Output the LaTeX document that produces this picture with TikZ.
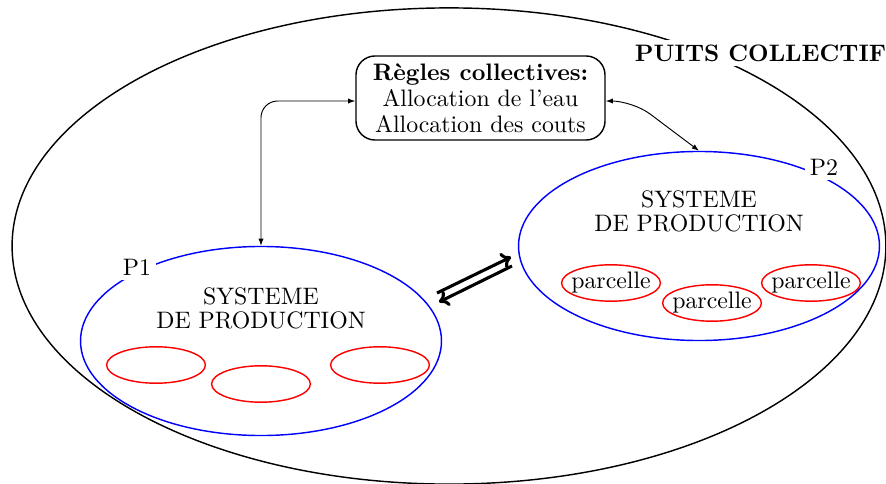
\documentclass[tikz,border=0pt]{standalone}
\usetikzlibrary{shapes.geometric,arrows.meta,calc}
\begin{document}
\begin{tikzpicture}[x=0.42pt,y=-0.42pt,
  big/.style={ellipse,draw=black,semithick,minimum width=367pt,minimum height=200pt,inner sep=0pt},
  prod/.style={ellipse,draw=blue,semithick,minimum width=151.6pt,minimum height=79.4pt,inner sep=0pt},
  parc/.style={ellipse,draw=red,semithick,minimum width=41.5pt,minimum height=15.3pt,inner xsep=-2.2pt,inner ysep=0pt},
  lab/.style={fill=white,inner sep=2pt},
  systxt/.style={align=center,font={\fontsize{10}{10}\selectfont}},
  rulebox/.style={draw,semithick,rounded corners=8pt,minimum width=104.6pt,minimum height=35.3pt,align=center,font={\fontsize{10}{11}\selectfont},inner sep=1pt},
  conn/.style={{Latex[length=3pt,width=2.2pt]}-{Latex[length=3pt,width=2.2pt]},thin},
  bigarrow/.style={-{To[length=4pt,width=7pt]},line width=1.3pt}]
\useasboundingbox (0,0) rectangle (886,484);
\node[big] (puits) at (449,246) {};
\node[lab,font=\bfseries] (puitslab) at (760.5,53) {PUITS COLLECTIF};
\node[prod] (P1) at (261,341) {};
\node[prod] (P2) at (699,246) {};
\node[lab] (P1lab) at (137,267) {P1};
\node[lab] (P2lab) at (824,167) {P2};
\node[systxt] (s1) at (261,308) {SYSTEME\\DE PRODUCTION};
\node[systxt] (s2) at (699,211) {SYSTEME\\DE PRODUCTION};
\node[parc] (r1) at (156,365) {};
\node[parc] (r2) at (261,384) {};
\node[parc] (r3) at (380,365) {};
\node[parc] (q1) at (611,283) {parcelle};
\node[parc] (q2) at (712,303) {parcelle};
\node[parc] (q3) at (811,283) {parcelle};
\node[rulebox] (rules) at (480.5,98) {\textbf{Règles collectives:}\\Allocation de l'eau\\Allocation des couts};
\coordinate (rw) at ($(rules.west)+(0,3)$);
\coordinate (re) at ($(rules.east)+(0,3)$);
\draw[conn,rounded corners=7pt] (rw) -| (P1.north);
\coordinate (rc) at ($(re)+(27,0)$);
\draw[conn,rounded corners=9pt] (re) -- (rc) -- (P2.north);
\coordinate (a1s) at (437,293);
\coordinate (a1e) at (511,257);
\coordinate (a2s) at (512,266);
\coordinate (a2e) at (439,302);
\draw[bigarrow] (a1s) -- (a1e);
\draw[bigarrow] (a2s) -- (a2e);
\end{tikzpicture}
\end{document}
